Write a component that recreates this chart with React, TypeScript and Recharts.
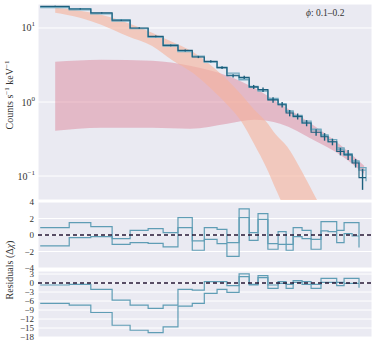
import React from 'react';
import {
  ComposedChart,
  Line,
  Area,
  Scatter,
  ErrorBar,
  XAxis,
  YAxis,
  CartesianGrid,
  ReferenceLine,
} from 'recharts';

// energy bin edges (keV) and tick positions of the log x axis
const binEdges = [
  3.05, 3.47, 3.82, 4.2, 4.55, 4.93, 5.27, 5.63, 6.0, 6.33, 6.7, 7.0, 7.39, 7.73,
  8.04, 8.4, 8.79, 9.11, 9.4, 9.78, 10.18, 10.64, 10.98, 11.41, 11.79, 12.22, 12.6, 13.0,
];
const energyTicks = [4, 5, 6, 7, 8, 9, 10, 13];

// spectrum (counts s^-1 keV^-1)
const counts = [
  19.6, 18.1, 16.0, 12.7, 10.0, 7.7, 5.82, 4.98, 4.06, 3.54, 2.91, 2.26, 2.15, 1.6,
  1.47, 1.07, 0.92, 0.71, 0.64, 0.52, 0.39, 0.34, 0.29, 0.215, 0.194, 0.15, 0.095,
];
const countsErr = [
  0.4, 0.35, 0.3, 0.25, 0.22, 0.2, 0.16, 0.15, 0.14, 0.13, 0.12, 0.11, 0.11, 0.1,
  0.1, 0.09, 0.08, 0.07, 0.06, 0.05, 0.04, 0.04, 0.03, 0.025, 0.03, 0.02, 0.03,
];
const modelA = [
  19.2, 18.3, 15.8, 13.0, 9.8, 7.6, 5.9, 4.8, 4.15, 3.5, 2.95, 2.45, 2.05, 1.62,
  1.45, 1.12, 0.92, 0.74, 0.63, 0.52, 0.42, 0.35, 0.29, 0.23, 0.19, 0.155, 0.13,
];
const modelAEnd = 0.085;
const modelB = [
  18.8, 17.6, 15.5, 12.4, 9.9, 7.5, 5.7, 4.9, 4.1, 3.45, 2.9, 2.3, 2.0, 1.58,
  1.4, 1.08, 0.95, 0.76, 0.66, 0.55, 0.43, 0.36, 0.31, 0.24, 0.2, 0.16, 0.12,
];

// model component bands
const bbEnergy = [3.26, 3.64, 4.0, 4.49, 5.02, 5.48, 6.0, 6.5, 7.01, 7.46, 7.9, 8.34, 8.71, 9.15, 9.78, 10.46, 10.84];
const bbHigh = [18.8, 17.1, 15.1, 11.8, 8.6, 6.5, 4.8, 3.19, 2.0, 1.26, 0.79, 0.54, 0.36, 0.25, 0.114, 0.047, 0.03];
const bbLow = [16.1, 13.8, 11.1, 7.8, 5.7, 3.7, 2.5, 1.55, 0.92, 0.55, 0.27, 0.13, 0.065, 0.03, 0.009, 0.0025, 0.001];

const plEnergy = [3.26, 4.0, 5.02, 5.94, 7.01, 7.9, 8.87, 10.27, 11.58, 12.89];
const plHigh = [3.5, 3.73, 3.61, 3.09, 2.27, 1.56, 0.95, 0.49, 0.265, 0.138];
const plLow = [0.41, 0.45, 0.45, 0.436, 0.51, 0.576, 0.509, 0.309, 0.194, 0.107];

// residuals, two fits
const residTopA = [
  0.89, 1.5, 1.01, -0.44, 0.57, 0.77, 0.29, 2.11, -0.72, 0.89, 0.69, -0.93, 3.16,
  0.29, 2.59, -1.05, 0.41, -1.13, 0.89, 0.57, -0.52, 1.62, 1.62, 0.57, 1.5, 1.5,
];
const residTopAEnd = -1.53;
const residTopB = [
  -1.33, -0.32, -0.2, -1.13, -0.93, -1.01, -1.45, 0.89, -1.85, -0.52, -1.05, -2.58,
  2.11, -0.64, 1.9, -1.73, -1.13, -1.85, -0.2, -0.44, -1.73, 0.49, 0.41, -0.93, 0.17, -0.12,
];
const residBotA = [
  -0.67, -0.45, -2.12, -5.7, -7.37, -8.49, -7.37, -2.12, -2.35, 0.45, 0.45, -0.89,
  3.02, -0.45, 2.46, -0.67, 0.45, -0.45, 0.78, 0.45, -0.45, 1.56, 1.56, 0.22, 1.56, 1.56,
];
const residBotAEnd = -1.56;
const residBotB = [
  -6.82, -7.37, -9.83, -14.08, -15.75, -16.54, -14.64, -7.71, -6.82, -3.46, -2.12,
  -3.13, 2.12, -0.67, 1.79, -1.79, -0.11, -1.79, 0.22, -0.45, -1.79, 0.22, 0.22,
  -0.89, -0.11, -0.11,
];

const midTicks = [-4, -2, 0, 2, 4];
const botTicks = [-18, -15, -12, -9, -6, -3, 0, 3];

const BG = '#eaeaf2';
const DARK = '#1c5f7d';
const LIGHT = '#74aac0';
const RES = '#5f9db5';
const SERIF = '"Liberation Serif", "DejaVu Serif", serif';
const X_DOMAIN = [3.02, 13.35];

const n = counts.length;
const stepRows = binEdges.map((e, i) => ({
  e,
  data: counts[Math.min(i, n - 1)],
  mA: i < n ? modelA[i] : modelAEnd,
  mB: modelB[Math.min(i, n - 1)],
}));
const pointRows = counts.map((c, i) => ({
  e: (binEdges[i] + binEdges[i + 1]) / 2,
  y: c,
  err: countsErr[i],
}));
const bbRows = bbEnergy.map((e, i) => ({ e, band: [bbLow[i], bbHigh[i]] }));
const plRows = plEnergy.map((e, i) => ({ e, band: [plLow[i], plHigh[i]] }));

const nr = residTopA.length;
const residRows = binEdges.slice(0, nr + 1).map((e, i) => ({
  e,
  topA: i < nr ? residTopA[i] : residTopAEnd,
  topB: residTopB[Math.min(i, nr - 1)],
  botA: i < nr ? residBotA[i] : residBotAEnd,
  botB: residBotB[Math.min(i, nr - 1)],
}));

const minus = (v: number) => (v < 0 ? `\u2212${-v}` : `${v}`);

const LogTick = ({ x, y, payload }: any) => {
  const p = Math.round(Math.log10(payload.value));
  return (
    <text x={x} y={y} textAnchor="end" fontFamily={SERIF} fontSize={10} fill="#333">
      <tspan dy={3.5}>10</tspan>
      <tspan dy={-5} fontSize={7}>{minus(p)}</tspan>
    </text>
  );
};

const xAxis = (
  <XAxis
    dataKey="e"
    type="number"
    scale="log"
    domain={X_DOMAIN}
    ticks={energyTicks}
    allowDataOverflow
    height={0}
    tick={false}
    axisLine={false}
    tickLine={false}
  />
);

const residTick = { fontFamily: SERIF, fontSize: 9, fill: '#333' };

export default function App() {
  return (
    <div style={{ position: 'absolute', left: 0, top: 0, width: 374, height: 345, background: '#fff' }}>
      <div style={{ position: 'absolute', left: 0, top: 0 }}>
        <ComposedChart width={374} height={201} data={stepRows} margin={{ top: 4, right: 2, bottom: 1, left: 0 }}>
          <CartesianGrid stroke="#fff" strokeWidth={1} fill={BG} fillOpacity={1} />
          {xAxis}
          <YAxis
            type="number"
            scale="log"
            domain={[0.0474, 21.1]}
            ticks={[0.1, 1, 10]}
            interval={0}
            allowDataOverflow
            width={38}
            tickSize={0}
            tickMargin={3}
            axisLine={false}
            tickLine={false}
            tick={<LogTick />}
          />
          <Area
            data={plRows}
            dataKey="band"
            type="monotone"
            stroke="none"
            fill="#d9758d"
            fillOpacity={0.42}
            isAnimationActive={false}
          />
          <Area
            data={bbRows}
            dataKey="band"
            type="monotone"
            stroke="none"
            fill="#f6b39c"
            fillOpacity={0.62}
            isAnimationActive={false}
          />
          <Line dataKey="mB" type="stepAfter" stroke={LIGHT} strokeWidth={1.3} dot={false} isAnimationActive={false} />
          <Line dataKey="mA" type="stepAfter" stroke={LIGHT} strokeWidth={1.3} dot={false} isAnimationActive={false} />
          <Line dataKey="data" type="stepAfter" stroke={DARK} strokeWidth={1.1} dot={false} isAnimationActive={false} />
          <Scatter data={pointRows} dataKey="y" shape={() => <g />} isAnimationActive={false}>
            <ErrorBar dataKey="err" direction="y" width={0} stroke={DARK} strokeWidth={1.4} />
          </Scatter>
        </ComposedChart>
      </div>

      <div style={{ position: 'absolute', left: 0, top: 195 }}>
        <ComposedChart width={374} height={80} data={residRows} margin={{ top: 7, right: 2, bottom: 7, left: 0 }}>
          <CartesianGrid stroke="#fff" strokeWidth={1} fill={BG} fillOpacity={1} />
          {xAxis}
          <YAxis
            type="number"
            domain={[-4, 4]}
            ticks={midTicks}
            interval={0}
            allowDataOverflow
            width={38}
            tickSize={0}
            tickMargin={4}
            axisLine={false}
            tickLine={false}
            tick={residTick}
            tickFormatter={minus}
          />
          <Line dataKey="topA" type="stepAfter" stroke={RES} strokeWidth={1.2} dot={false} isAnimationActive={false} />
          <Line dataKey="topB" type="stepAfter" stroke={RES} strokeWidth={1.2} dot={false} isAnimationActive={false} />
          <ReferenceLine y={0} stroke="#241634" strokeWidth={1.4} strokeDasharray="4 3" />
        </ComposedChart>
      </div>

      <div style={{ position: 'absolute', left: 0, top: 264 }}>
        <ComposedChart width={374} height={80} data={residRows} margin={{ top: 7, right: 2, bottom: 7, left: 0 }}>
          <CartesianGrid stroke="#fff" strokeWidth={1} fill={BG} fillOpacity={1} />
          {xAxis}
          <YAxis
            type="number"
            domain={[-18, 4]}
            ticks={botTicks}
            interval={0}
            allowDataOverflow
            width={38}
            tickSize={0}
            tickMargin={4}
            axisLine={false}
            tickLine={false}
            tick={residTick}
            tickFormatter={minus}
          />
          <Line dataKey="botA" type="stepAfter" stroke={RES} strokeWidth={1.2} dot={false} isAnimationActive={false} />
          <Line dataKey="botB" type="stepAfter" stroke={RES} strokeWidth={1.2} dot={false} isAnimationActive={false} />
          <ReferenceLine y={0} stroke="#241634" strokeWidth={1.4} strokeDasharray="4 3" />
        </ComposedChart>
      </div>

      <svg width={374} height={345} style={{ position: 'absolute', left: 0, top: 0, pointerEvents: 'none' }}>
        <text x={306} y={16} fontFamily={SERIF} fontSize={9.5} fill="#333">
          <tspan fontStyle="italic">ϕ</tspan>: 0.1–0.2
        </text>
        <text
          transform="translate(13,95) rotate(-90)"
          textAnchor="middle"
          fontFamily={SERIF}
          fontSize={10}
          fill="#333"
        >
          Counts s<tspan dy={-4} fontSize={7}>−1</tspan>
          <tspan dy={4}> keV</tspan>
          <tspan dy={-4} fontSize={7}>−1</tspan>
        </text>
        <text
          transform="translate(13,270) rotate(-90)"
          textAnchor="middle"
          fontFamily={SERIF}
          fontSize={10}
          fill="#333"
        >
          Residuals (Δ<tspan fontStyle="italic">χ</tspan>)
        </text>
      </svg>
    </div>
  );
}
